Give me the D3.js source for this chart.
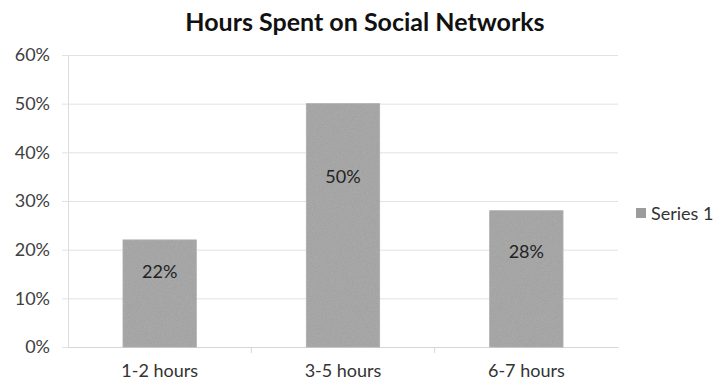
<!DOCTYPE html>
<html>
<head>
<meta charset="utf-8">
<script src="https://cdn.jsdelivr.net/npm/d3@7"></script>
<style>
  html, body { margin: 0; padding: 0; background: #fff; }
  svg { display: block; font-family: Lato, "Open Sans", sans-serif; }
</style>
</head>
<body>
<svg id="chart" width="714" height="381"></svg>
<script>
const categories = ["1-2 hours", "3-5 hours", "6-7 hours"];
const values = [22, 50, 28];
const yTicks = [0, 10, 20, 30, 40, 50, 60];
const seriesName = "Series 1";
const title = "Hours Spent on Social Networks";

const svg = d3.select("#chart");
const plot = { left: 68, right: 618, top: 55, bottom: 347 };

const x = d3.scaleBand().domain(categories).range([plot.left, plot.right])
  .paddingInner(0.6).paddingOuter(0.3);
const y = d3.scaleLinear().domain([0, 60]).range([plot.bottom, plot.top]);

// light grain on the bars
const defs = svg.append("defs");
const f = defs.append("filter").attr("id", "grain");
f.append("feTurbulence").attr("type", "fractalNoise").attr("baseFrequency", 1.2).attr("numOctaves", 1).attr("result", "n");
f.append("feColorMatrix").attr("in", "n").attr("type", "matrix")
  .attr("values", "0 0 0 0 0.6  0 0 0 0 0.6  0 0 0 0 0.6  0 0 0 0.35 0").attr("result", "g");
f.append("feComposite").attr("in", "g").attr("in2", "SourceGraphic").attr("operator", "in").attr("result", "gc");
f.append("feMerge").selectAll("feMergeNode").data(["SourceGraphic", "gc"]).join("feMergeNode").attr("in", d => d);

// gridlines and y labels
const yAxis = d3.axisLeft(y).tickValues(yTicks).tickFormat(d => d + "%")
  .tickSize(-(plot.right - plot.left)).tickSizeOuter(0).tickPadding(18);
const gy = svg.append("g").attr("transform", `translate(${plot.left},0)`).call(yAxis);
gy.select(".domain").attr("stroke", "#dcdcdc");
gy.selectAll(".tick line").attr("stroke", "#e2e2e2").attr("x1", -6);
gy.selectAll(".tick text").attr("fill", "#404040").style("font-size", "18px")
  .style("font-family", "Lato, 'Open Sans', sans-serif");

// category axis
const xAxis = d3.axisBottom(x).tickSize(0).tickPadding(17);
const gx = svg.append("g").attr("transform", `translate(0,${plot.bottom})`).call(xAxis);
gx.select(".domain").attr("stroke", "#d6d6d6");
gx.selectAll(".tick text").attr("fill", "#333").style("font-size", "18px")
  .style("font-family", "Lato, 'Open Sans', sans-serif");
// separators between categories
const step = x.step();
gx.selectAll(".sep").data(categories.slice(1)).join("line").attr("class", "sep")
  .attr("x1", d => x(d) - step * x.paddingInner() / 2).attr("x2", d => x(d) - step * x.paddingInner() / 2)
  .attr("y1", 0).attr("y2", 6).attr("stroke", "#d6d6d6");

// bars
svg.append("g").selectAll("rect").data(values).join("rect")
  .attr("x", (d, i) => x(categories[i]))
  .attr("width", x.bandwidth())
  .attr("y", d => y(d))
  .attr("height", d => y(0) - y(d))
  .attr("fill", "#9c9c9c")
  .attr("stroke", "#a8a8a8").attr("stroke-width", 0.8)
  .attr("filter", "url(#grain)");

// value labels
svg.append("g").selectAll("text").data(values).join("text")
  .attr("x", (d, i) => x(categories[i]) + x.bandwidth() / 2)
  .attr("y", d => y(d * 0.7) + 6)
  .attr("text-anchor", "middle")
  .attr("fill", "#222").style("font-size", "18px")
  .text(d => d + "%");

// title
svg.append("text").attr("x", 365).attr("y", 31).attr("text-anchor", "middle")
  .attr("fill", "#111").style("font-size", "25px").style("font-weight", "bold")
  .text(title);

// legend
const lg = svg.append("g").attr("transform", "translate(636,208)");
lg.append("rect").attr("width", 10).attr("height", 10).attr("fill", "#9c9c9c");
lg.append("text").attr("x", 15).attr("y", 12).attr("fill", "#333").style("font-size", "18px").text(seriesName);
</script>
</body>
</html>
